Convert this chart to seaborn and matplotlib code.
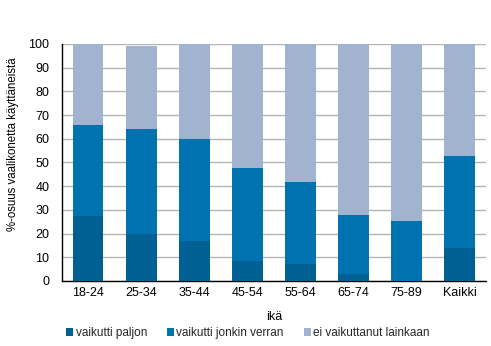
import matplotlib
matplotlib.use("Agg")
import matplotlib.pyplot as plt
import seaborn as sns
import numpy as np
import pandas as pd
from matplotlib.patches import Patch

categories = ["18-24", "25-34", "35-44", "45-54", "55-64", "65-74", "75-89", "Kaikki"]
paljon = [27.6, 19.6, 16.9, 8.6, 7.2, 3.0, 0.0, 13.9]
jonkin = [38.3, 44.6, 43.1, 38.9, 34.6, 24.9, 25.4, 38.9]
ei = [34.1, 34.8, 40.0, 52.5, 58.2, 72.1, 74.6, 47.2]
series = ["vaikutti paljon", "vaikutti jonkin verran", "ei vaikuttanut lainkaan"]
colors = ["#005f93", "#0072b0", "#a0b4d0"]

sns.set_theme(style="white")
plt.rcParams["font.family"] = ["Liberation Sans", "DejaVu Sans"]

fig = plt.figure(figsize=(4.91, 3.46), dpi=100)
ax = fig.add_axes([0.126, 0.188, 0.864, 0.685])

df = pd.DataFrame({"ika": categories, "p": paljon, "j": jonkin, "e": ei})
b1 = np.array(paljon)
b2 = b1 + np.array(jonkin)
common = dict(width=0.57, ax=ax, saturation=1, zorder=3, linewidth=0, edgecolor="none")
sns.barplot(data=df, x="ika", y="p", color=colors[0], **common)
sns.barplot(data=df, x="ika", y="j", color=colors[1], bottom=b1, **common)
sns.barplot(data=df, x="ika", y="e", color=colors[2], bottom=b2, **common)

ax.set_xlim(-0.5, 7.5)
ax.set_ylim(0, 100)
ax.set_yticks(range(0, 101, 10))
ax.yaxis.grid(True, color="#b4b4b4", linewidth=1, zorder=0)
ax.set_axisbelow(True)
for s in ["top", "right"]:
    ax.spines[s].set_visible(False)
ax.spines["left"].set_color("black")
ax.spines["bottom"].set_color("black")
ax.spines["left"].set_linewidth(1)
ax.spines["bottom"].set_linewidth(1)
ax.tick_params(axis="both", length=0, labelsize=9, colors="black", pad=4)
ax.tick_params(axis="y", pad=9)
ax.set_xlabel("ikä", fontsize=9, color="black")
ax.xaxis.set_label_coords(0.5, -0.125)
ax.set_ylabel("%-osuus vaalikonetta käyttäneistä", fontsize=8.3, color="black")
ax.yaxis.set_label_coords(-0.101, 0.578)

handles = [Patch(facecolor=c, edgecolor="none") for c in colors]
fig.legend(handles, series, loc="center", bbox_to_anchor=(0.505, 0.037), ncol=3,
           frameon=False, fontsize=8.5, handlelength=0.6, handleheight=0.6,
           handletextpad=0.2, columnspacing=1.7)

fig.savefig("out.png", dpi=100)
